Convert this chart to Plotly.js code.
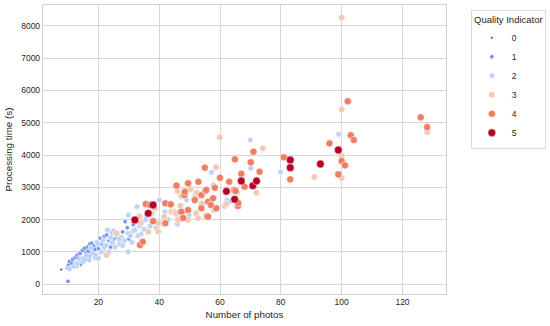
<!DOCTYPE html>
<html>
<head>
<meta charset="utf-8">
<script src="https://cdn.plot.ly/plotly-3.0.1.min.js"></script>
<style>html,body{margin:0;padding:0;background:#fff;}#chart{width:550px;height:326px;}</style>
</head>
<body>
<div id="chart"></div>
<script>
// Quality indicator levels
const levels = [0, 1, 2, 3, 4, 5];
const levelColors = ["#3b4cc0", "#6f92f3", "#bcd2f7", "#f2c9b4", "#ec7f63", "#b40426"];

// Level 0
const photos0 = [7.8, 16.2];
const time0 = [455, 1060];

// Level 1
const photos1 = [10.0, 9.8, 10.2, 10.5, 11.0, 11.5, 12.0, 12.3, 12.8, 13.0, 13.5, 14.0, 14.2, 14.8, 15.0, 15.5, 15.8, 16.0, 16.5, 17.0, 17.2, 17.8, 18.0, 18.5, 19.0, 19.5, 20.0, 20.6, 21.0, 21.5, 22.0, 22.5, 22.8, 23.5, 24.0, 24.5, 25.0, 26.0, 27.0, 28.0, 28.8, 29.5, 30.5, 31.5, 33.0, 11.2, 13.2, 16.8, 18.8, 21.8, 24.8, 30.0];
const time1 = [93, 500, 600, 700, 520, 760, 640, 820, 560, 900, 700, 960, 620, 1050, 800, 1120, 760, 980, 1150, 860, 1250, 1268, 1000, 1180, 900, 1300, 1100, 1422, 1250, 1060, 1480, 1200, 1525, 1350, 1150, 1600, 1380, 1450, 1300, 1620, 1936, 1750, 1500, 1850, 1950, 640, 820, 1020, 1080, 1380, 1250, 1400];

// Level 2
const photos2 = [10.5, 12.0, 13.0, 14.0, 15.0, 16.0, 17.0, 18.0, 19.0, 20.0, 21.0, 22.0, 23.0, 23.5, 24.5, 25.5, 26.0, 27.0, 27.5, 28.5, 29.8, 29.8, 29.9, 30.5, 31.0, 31.5, 32.0, 32.7, 33.5, 34.0, 35.0, 36.0, 37.0, 38.0, 39.0, 40.0, 40.5, 41.9, 43.0, 46.0, 46.0, 49.0, 49.8, 57.2, 57.8, 62.3, 63.2, 65.8, 70.0, 70.1, 79.9, 99.0, 17.5, 19.8, 21.5, 24.0, 25.0, 26.8, 28.0, 33.0, 35.5];
const time2 = [480, 560, 640, 780, 700, 880, 760, 950, 820, 804, 1000, 1150, 1680, 1000, 1300, 1150, 1550, 1250, 1450, 1350, 1008, 1577, 2143, 1500, 1300, 1650, 1680, 2400, 1800, 1550, 1700, 2100, 1800, 2000, 1750, 2607, 1900, 2246, 2000, 2091, 1866, 2607, 2143, 3464, 3081, 2607, 2560, 2846, 4463, 3588, 3474, 4640, 1120, 1250, 1350, 1450, 1650, 1400, 1200, 1500, 2000];

// Level 3
const photos3 = [22.7, 26.0, 34.0, 36.4, 37.5, 38.6, 39.7, 39.7, 41.6, 44.0, 45.1, 45.6, 46.0, 46.2, 47.0, 47.3, 49.5, 49.8, 50.3, 51.9, 52.1, 52.3, 52.8, 54.0, 58.0, 58.7, 59.9, 61.5, 62.0, 62.0, 72.0, 74.1, 91.0, 100.0, 100.0, 100.0, 128.1, 100.0, 33.5];
const time3 = [906, 1577, 1900, 1627, 2200, 2351, 1887, 1627, 2091, 2246, 2246, 2195, 2886, 1989, 2431, 2731, 1989, 2969, 2938, 2740, 2196, 2833, 2041, 2500, 2300, 3619, 4546, 2422, 2948, 2484, 2833, 4206, 3319, 5413, 3978, 3288, 4710, 8246, 2100];

// Level 4
const photos4 = [33.7, 34.6, 35.6, 37.0, 38.0, 42.0, 42.0, 43.8, 45.7, 47.3, 47.9, 48.3, 48.4, 49.5, 49.5, 51.7, 52.9, 53.9, 53.9, 55.0, 55.2, 55.5, 55.7, 56.1, 56.1, 57.0, 57.7, 58.3, 58.8, 60.0, 63.0, 64.7, 64.9, 65.1, 65.9, 66.0, 67.0, 68.1, 71.0, 70.1, 73.0, 81.0, 83.1, 96.0, 98.9, 100.0, 101.1, 102.0, 103.0, 104.0, 126.0, 128.1];
const time4 = [1216, 1318, 2484, 2453, 1950, 2505, 1887, 2474, 3055, 2246, 2051, 2762, 2864, 3123, 2298, 2607, 3173, 2762, 2351, 3607, 2886, 2917, 2103, 2555, 2091, 2453, 2660, 2988, 2351, 3297, 3173, 2917, 3866, 2886, 2422, 2515, 3421, 3019, 4101, 3773, 3483, 3928, 3248, 4361, 3402, 3814, 3680, 5660, 4608, 4463, 5165, 4865];

// Level 5
const photos5 = [32.0, 36.4, 38.0, 62.1, 64.8, 67.0, 70.8, 72.0, 83.1, 83.1, 93.0, 98.9];
const time5 = [1989, 2196, 2453, 2877, 2630, 3195, 3050, 3195, 3845, 3607, 3721, 4154];

const xTicks = [20, 40, 60, 80, 100, 120];
const yTicks = [0, 1000, 2000, 3000, 4000, 5000, 6000, 7000, 8000];

const allX = [photos0, photos1, photos2, photos3, photos4, photos5];
const allY = [time0, time1, time2, time3, time4, time5];
const sizes = [2.6, 4.3, 5.6, 6.4, 7.1, 7.8];

const traces = levels.map((lv, i) => ({
  type: 'scatter',
  mode: 'markers',
  name: String(lv),
  x: allX[i],
  y: allY[i],
  marker: {color: levelColors[i], size: sizes[i], line: {color: '#ffffff', width: 0.5}},
  hoverinfo: 'x+y'
}));

const font = {family: 'Liberation Sans, Arial, sans-serif', color: '#262626'};

const layout = {
  width: 550, height: 326,
  margin: {l: 43, r: 103, t: 5, b: 32},
  paper_bgcolor: '#ffffff',
  plot_bgcolor: '#ffffff',
  font: Object.assign({size: 9}, font),
  showlegend: true,
  xaxis: {
    range: [1.8, 134.3],
    tickvals: xTicks,
    ticktext: xTicks.map(String),
    showgrid: true, gridcolor: '#d6d6d6', gridwidth: 1,
    zeroline: false,
    showline: true, mirror: true, linecolor: '#cfcfcf', linewidth: 1.2,
    ticks: '',
    tickfont: Object.assign({size: 8.5}, font),
    title: {text: 'Number of photos', font: Object.assign({size: 9.8}, font), standoff: 4}
  },
  yaxis: {
    range: [-300, 8640],
    tickvals: yTicks,
    ticktext: yTicks.map(String),
    showgrid: true, gridcolor: '#d6d6d6', gridwidth: 1,
    zeroline: false,
    showline: true, mirror: true, linecolor: '#cfcfcf', linewidth: 1.2,
    ticks: '',
    tickfont: Object.assign({size: 8.5}, font),
    title: {text: 'Processing time (s)', font: Object.assign({size: 9.8}, font), standoff: 6}
  },
  legend: {
    x: 1.059, xanchor: 'left', y: 0.983, yanchor: 'top',
    bgcolor: '#ffffff', bordercolor: '#d9d9d9', borderwidth: 1,
    itemsizing: 'trace',
    font: Object.assign({size: 8.5}, font),
    title: {text: 'Quality Indicator', side: 'top center', font: Object.assign({size: 9.5}, font)},
    tracegroupgap: 0
  }
};

Plotly.newPlot('chart', traces, layout, {displayModeBar: false, staticPlot: true});
</script>
</body>
</html>
